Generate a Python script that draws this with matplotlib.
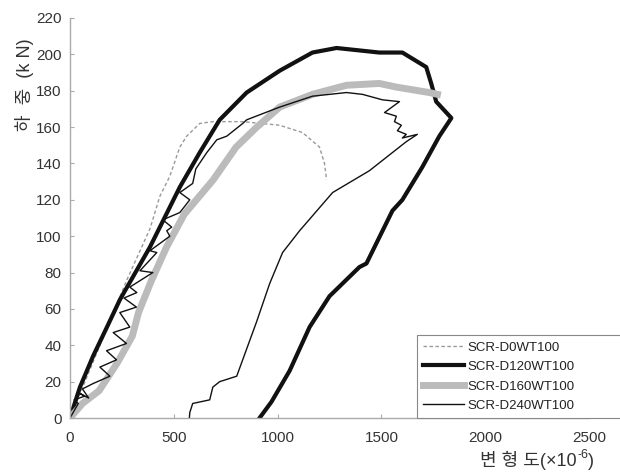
import matplotlib.pyplot as plt

# SCR-D0WT100 (dashed gray)
d0_x = [0, 274, 385, 433, 481, 529, 562, 625, 688, 832, 1010, 1120, 1202, 1226, 1236]
d0_y = [0, 76, 104, 122, 133, 149, 155, 162, 163, 163, 161, 157, 149, 140, 131]

# SCR-D120WT100 (thick black)
d120_x = [0, 48, 111, 178, 240, 385, 529, 625, 721, 851, 1010, 1168, 1284, 1490, 1601,
          1716, 1740, 1764, 1837, 1779, 1697, 1601, 1553, 1428, 1394, 1250, 1154, 1058, 971, 913]
d120_y = [0, 17, 34, 50, 65, 94, 127, 146, 164, 179, 191, 201, 203.5, 201, 201,
          193, 184, 174, 165, 155, 138, 120, 114, 85, 83, 67, 50, 26, 9, 0]

# SCR-D160WT100 (gray band)
d160_x = [0, 60, 140, 226, 300, 330, 390, 465, 550, 690, 800, 900, 1010, 1168, 1332, 1490, 1572, 1731, 1770]
d160_y = [0, 8, 15, 30, 45, 58, 75, 94, 112, 131, 149, 160, 171, 178, 183, 184, 182, 179, 178]

# SCR-D240WT100 (thin black)
d240_x = [0, 40, 20, 70, 40, 90, 60, 112, 192, 144, 224, 176, 272, 208, 288, 240, 320, 260, 322, 288,
          399, 337, 418, 385, 481, 466, 490, 447, 529, 577, 529, 591, 606, 659, 707, 755, 832, 851,
          1010, 1168, 1332, 1409, 1505, 1587, 1515, 1572, 1563, 1596, 1577, 1620, 1601, 1673, 1620,
          1442, 1265, 1106, 1024, 962, 899, 803, 721, 688, 673, 591, 577, 575]
d240_y = [0, 8, 10, 12, 14, 11, 16, 19, 23, 28, 32, 37, 41, 47, 50, 58, 61, 66, 69, 72,
          80, 81, 91, 92, 100, 103, 105, 109, 113, 120, 124, 129, 137, 146, 153, 155, 162, 164,
          171, 177, 179, 178, 175, 174, 168, 166, 163, 161, 158, 156, 154, 156, 152,
          136, 124, 103, 91, 74, 53, 23, 20, 17, 10, 8, 3, 0]

labels = ['SCR-D0WT100', 'SCR-D120WT100', 'SCR-D160WT100', 'SCR-D240WT100']
xticks = [0, 500, 1000, 1500, 2000, 2500]
yticks = list(range(0, 221, 20))

plt.rcParams['font.family'] = ['Liberation Sans', 'Noto Sans CJK KR', 'DejaVu Sans']

fig = plt.figure(figsize=(6.2, 4.76), dpi=100)
ax = fig.add_axes([0.1129, 0.1218, 0.8371, 0.8404])

ax.plot(d0_x, d0_y, color='#999999', lw=1, dashes=(2.5, 1.8), label=labels[0])
ax.plot(d120_x, d120_y, color='#111111', lw=3, label=labels[1])
ax.plot(d160_x, d160_y, color='#bbbbbb', lw=5, label=labels[2])
ax.plot(d240_x, d240_y, color='#111111', lw=1, label=labels[3])

ax.set_xlim(0, 2500)
ax.set_ylim(0, 220)
ax.set_xticks(xticks)
ax.set_yticks(yticks)
ax.tick_params(direction='in', length=3, color='#aaaaaa', labelsize=11, labelcolor='#333333')
ax.tick_params(axis='x', pad=9)
ax.tick_params(axis='y', pad=6)

for s in ['top', 'right']:
    ax.spines[s].set_visible(False)
for s in ['left', 'bottom']:
    ax.spines[s].set_color('#aaaaaa')
    ax.spines[s].set_linewidth(1)

# y label
fig.text(0.04, 0.8225, '하  중  (k N)', rotation=90, ha='center', va='center',
         fontsize=13, color='#333333')

# x label with raised exponent
W, H = fig.get_size_inches() * fig.dpi
r = fig.canvas.get_renderer()
y0 = 0.022
t1 = fig.text(480 / W, y0, '변 형 도(×10', ha='left', va='baseline', fontsize=13, color='#333333')
bb1 = t1.get_window_extent(r)
t2 = fig.text(bb1.x1 / W + 0.001, y0 + 8 / H, '-6', ha='left', va='baseline', fontsize=9, color='#333333')
bb2 = t2.get_window_extent(r)
fig.text(bb2.x1 / W, y0, ')', ha='left', va='baseline', fontsize=13, color='#333333')

leg = ax.legend(loc='lower left', bbox_to_anchor=((417 - 70) / 519, 0.0, 0.42, 0.215),
                mode='expand', borderaxespad=0,
                fontsize=9.5, handlelength=3.1, handletextpad=0.3, labelspacing=0.55,
                borderpad=0.45, fancybox=False, framealpha=1, edgecolor='#888888')
leg.get_frame().set_linewidth(0.8)
for t in leg.get_texts():
    t.set_color('#222222')

fig.savefig('out.png', dpi=100)
